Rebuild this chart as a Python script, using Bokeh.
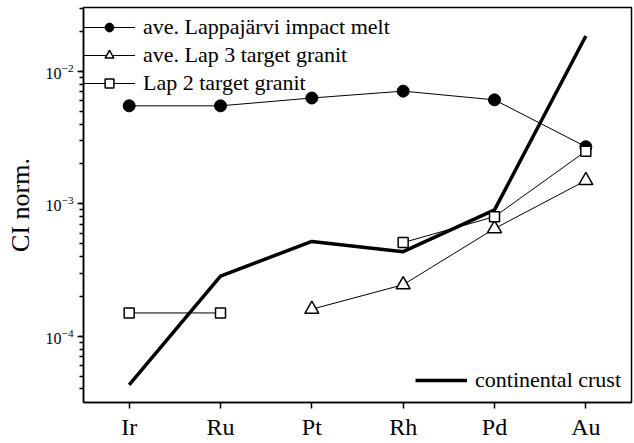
from bokeh.plotting import figure
from bokeh.models import Legend, LegendItem, FactorRange, Range1d
from bokeh.embed import file_html
from bokeh.resources import INLINE
import numpy as np

elements = ["Ir", "Ru", "Pt", "Rh", "Pd", "Au"]
impact_melt = [5.5e-3, 5.5e-3, 6.3e-3, 7.1e-3, 6.1e-3, 2.7e-3]
lap3_granit = [np.nan, np.nan, 1.6e-4, 2.45e-4, 6.5e-4, 1.5e-3]
lap2_granit = [1.5e-4, 1.5e-4, np.nan, 5.1e-4, 8.0e-4, 2.5e-3]
crust = [4.3e-5, 2.85e-4, 5.2e-4, 4.35e-4, 9.0e-4, 1.85e-2]

label_melt = "ave. Lappajärvi impact melt"
label_lap3 = "ave. Lap 3 target granit"
label_lap2 = "Lap 2 target granit"
label_crust = "continental crust"
y_label = "CI norm."

FONT = "Liberation Serif"

p = figure(width=634, height=443, x_range=FactorRange(*elements, range_padding=0),
           y_axis_type="log", y_range=Range1d(3.16e-5, 3.04e-2),
           output_backend="svg", toolbar_location=None,
           min_border_left=83, min_border_right=3, min_border_top=7, min_border_bottom=41)

p.xgrid.visible = False
p.ygrid.visible = False
p.outline_line_color = "black"
p.outline_line_width = 1.5
p.background_fill_color = "white"
p.border_fill_color = "white"

r_crust = p.line(elements, crust, line_color="black", line_width=3.5)

r_melt_l = p.line(elements, impact_melt, line_color="black", line_width=1)
r_melt_m = p.scatter(elements, impact_melt, marker="circle", size=12,
                     fill_color="black", line_color="black")

r_lap3_l = p.line(elements, lap3_granit, line_color="black", line_width=1)
r_lap3_m = p.scatter(elements, lap3_granit, marker="triangle", size=14,
                     fill_color="white", line_color="black", line_width=1.5)

r_lap2_l = p.line(elements, lap2_granit, line_color="black", line_width=1)
r_lap2_m = p.scatter(elements, lap2_granit, marker="square", size=10,
                     fill_color="white", line_color="black", line_width=1.5)

leg1 = Legend(items=[LegendItem(label=label_melt, renderers=[r_melt_l, r_melt_m]),
                     LegendItem(label=label_lap3, renderers=[r_lap3_l, r_lap3_m]),
                     LegendItem(label=label_lap2, renderers=[r_lap2_l, r_lap2_m])],
              location=(0, 306))
leg2 = Legend(items=[LegendItem(label=label_crust, renderers=[r_crust])],
              location=(332, 9))
for lg in (leg1, leg2):
    lg.label_text_font = FONT
    lg.label_text_font_size = "22px"
    lg.label_text_color = "black"
    lg.label_height = 22
    lg.glyph_height = 22
    lg.glyph_width = 52
    lg.label_standoff = 8
    lg.spacing = 2
    lg.padding = 0
    lg.margin = 0
    lg.border_line_color = None
    lg.background_fill_alpha = 0
    p.add_layout(lg)

for ax in (p.xaxis[0], p.yaxis[0]):
    ax.axis_line_color = "black"
    ax.axis_line_width = 1.5
    ax.major_tick_line_color = "black"
    ax.major_tick_line_width = 1.5
    ax.minor_tick_line_color = "black"
    ax.minor_tick_line_width = 1.5
    ax.major_tick_in = 0
    ax.major_tick_out = 6
    ax.minor_tick_in = 0
    ax.minor_tick_out = 4
    ax.major_label_text_font = FONT
    ax.major_label_text_color = "black"

p.xaxis.major_label_text_font_size = "24px"
p.xaxis.major_label_standoff = 5
p.yaxis.major_label_text_font_size = "16px"
p.yaxis.major_label_standoff = 4
p.yaxis.axis_label = y_label
p.yaxis.axis_label_text_font = FONT
p.yaxis.axis_label_text_font_size = "26px"
p.yaxis.axis_label_text_font_style = "normal"
p.yaxis.axis_label_text_color = "black"
p.yaxis.axis_label_standoff = 8

open("out.html", "w").write(file_html(p, INLINE))
